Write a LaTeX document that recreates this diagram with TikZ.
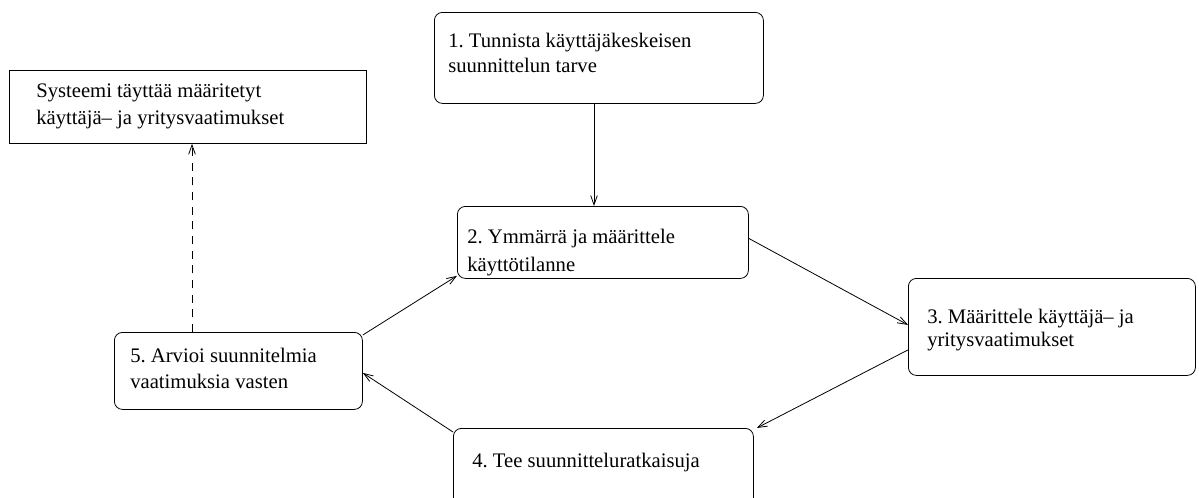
\documentclass[tikz,border=0pt]{standalone}
\usepackage{fontspec}
\setmainfont{Liberation Serif}
\usetikzlibrary{arrows.meta,calc}
\frenchspacing
\begin{document}
\begin{tikzpicture}[x=0.75pt,y=-0.75pt,
  box/.style={draw,line width=0.6pt,minimum width=#1,inner sep=0pt,anchor=north west},
  rbox/.style={box=#1,rounded corners=6pt},
  txt/.style={anchor=base west,inner sep=0pt,font=\fontsize{15.5}{18}\selectfont},
  arr/.style={-{Straight Barb[length=7pt,width=5pt]},line width=0.6pt},
]
\useasboundingbox (0,0) rectangle (1199,497);
\clip (0,0) rectangle (1199,497);
\node[box=357*0.75pt,minimum height=73*0.75pt] (b0) at (9,70) {};
\node[rbox=329*0.75pt,minimum height=91*0.75pt] (b1) at (434,12) {};
\node[rbox=291*0.75pt,minimum height=72*0.75pt] (b2) at (457,206) {};
\node[rbox=287*0.75pt,minimum height=97*0.75pt] (b3) at (908,278) {};
\node[rbox=300*0.75pt,minimum height=100*0.75pt] (b4) at (453,428) {};
\node[rbox=248*0.75pt,minimum height=77*0.75pt] (b5) at (114,332) {};

\node[txt] (t0a) at (36,97) {Systeemi täyttää määritetyt};
\node[txt] (t0b) at (36,124) {käyttäjä– ja yritysvaatimukset};
\node[txt] (t1a) at (448,47) {1. Tunnista käyttäjäkeskeisen};
\node[txt] (t1b) at (448,72) {suunnittelun tarve};
\node[txt] (t2a) at (467,243) {2. Ymmärrä ja määrittele};
\node[txt] (t2b) at (467,271) {käyttötilanne};
\node[txt] (t3a) at (927,323) {3. Määrittele käyttäjä– ja};
\node[txt] (t3b) at (927,346) {yritysvaatimukset};
\node[txt] (t4) at (472,467) {4. Tee suunnitteluratkaisuja};
\node[txt] (t5a) at (130,362) {5. Arvioi suunnitelmia};
\node[txt] (t5b) at (130,388) {vaatimuksia vasten};

\coordinate (c12) at (594,0);
\coordinate (c50) at (192,0);
\draw[arr] (b1.south -| c12) -- (b2.north -| c12);
\draw[arr] ([yshift=4*0.75pt]b2.east) -- ([yshift=2*0.75pt]b3.west);
\draw[arr] ([yshift=-23*0.75pt]b3.west) -- ([xshift=3*0.75pt]b4.north east);
\draw[arr] ([yshift=-4*0.75pt]b4.north west) -- ([yshift=-2*0.75pt]b5.east);
\draw[arr] ([yshift=-3*0.75pt]b5.north east) -- ([yshift=3*0.75pt]b2.south west);
\draw[arr,dash pattern=on 6pt off 5pt] (b5.north -| c50) -- (b0.south -| c50);
\end{tikzpicture}
\end{document}
